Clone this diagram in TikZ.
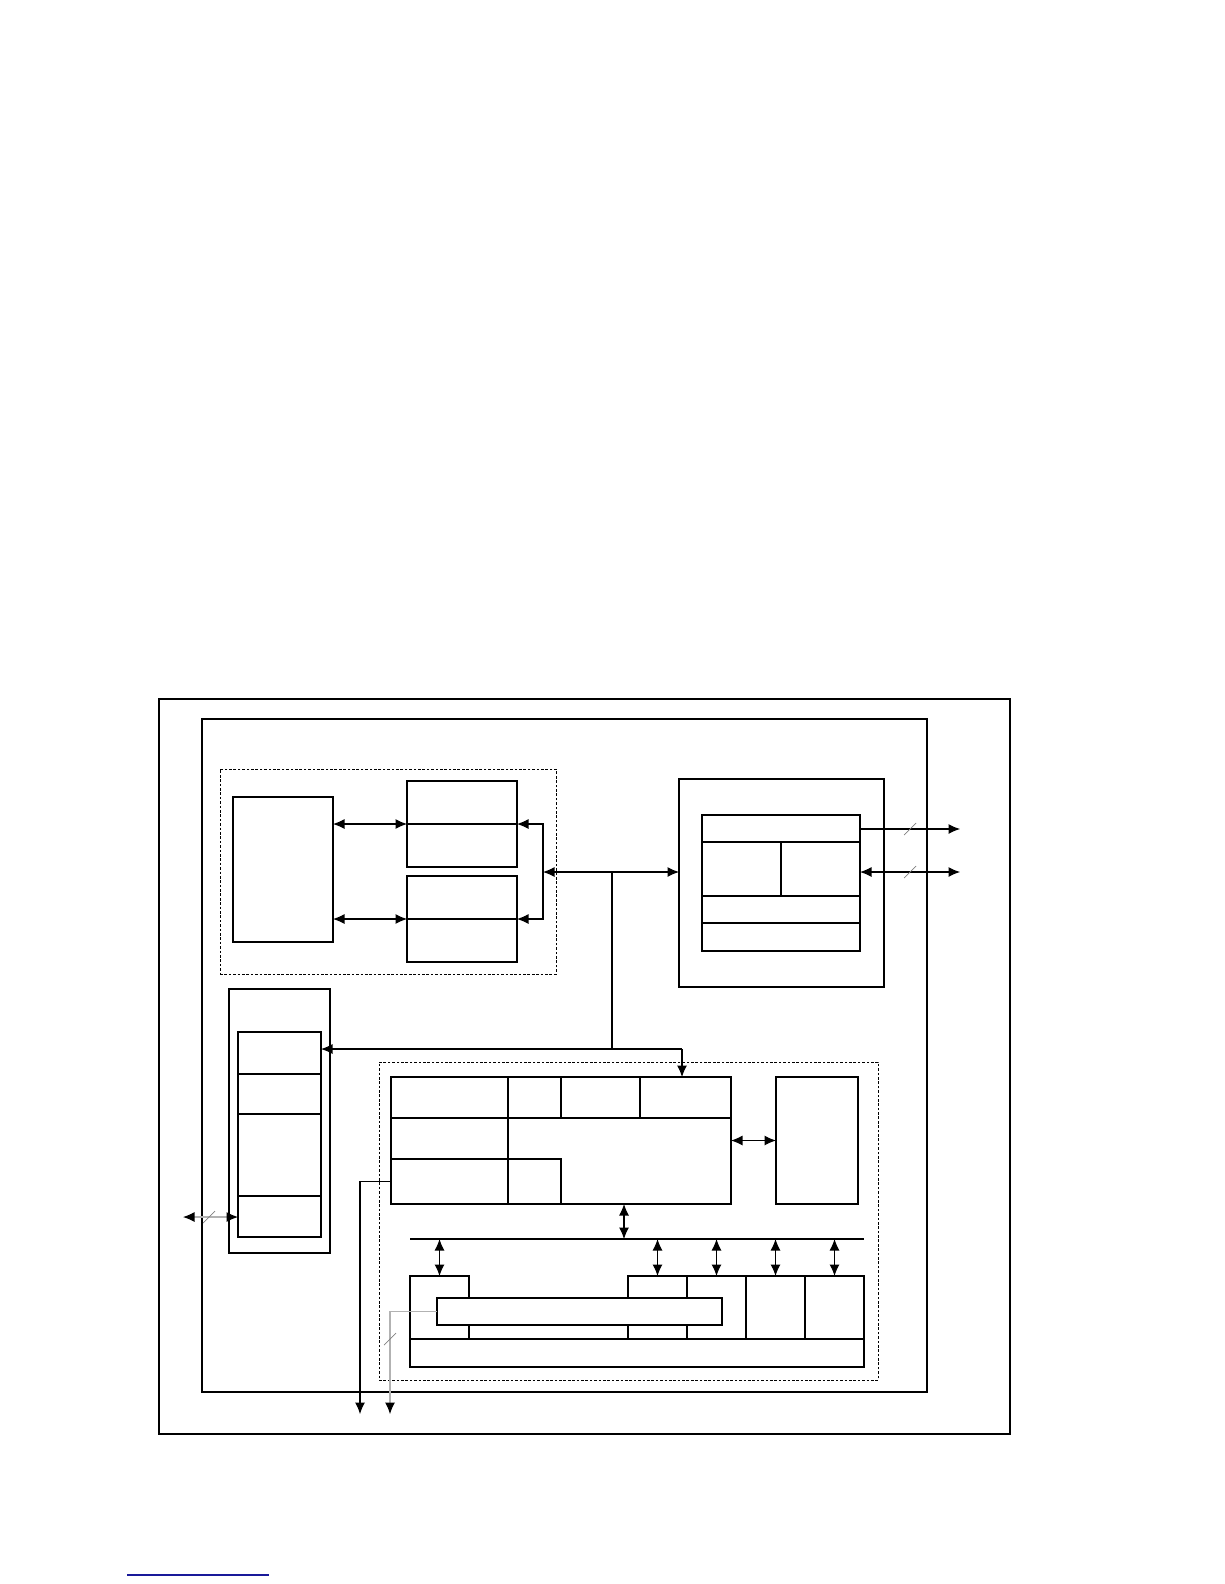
\documentclass[tikz,border=0pt]{standalone}
\usepackage{xcolor}
\usepackage{tikz}
\usetikzlibrary{positioning, fit, arrows.meta}
\definecolor{linkblue}{rgb}{0.1, 0.1, 0.6}
\tikzset{
    block/.style={
        draw, inner sep = 0pt, outer sep = 0pt,
        line width = 0.6pt
    },
    group/.style={
        draw, inner sep = 0pt, outer sep = 0pt,
        line width = 0.5pt,
        dash pattern = on 1.5pt off 1pt
    },
    line/.style = {line width = 0.6pt, -{Latex[length=2.3mm, width=2mm]}},
    dline/.style = {line width = 0.6pt, {Latex[length=2.3mm, width=2mm]}-{Latex[length=2.3mm, width=2mm]}},
    gline/.style = {line width = 0.6pt, draw = gray!60, -{Latex[length=2.3mm, width=2mm, color=black]}},
    gdline/.style = {line width = 0.6pt, draw = gray!60, {Latex[length=2.3mm, width=2mm, color=black]}-{Latex[length=2.3mm, width=2mm, color=black]}},
    slash/.style = {draw = gray, line width = 0.4pt}
}
\begin{document}
\begin{tikzpicture}[x=0.02cm, y=-0.02cm]
    \useasboundingbox (0,0) rectangle (1224,1584);

    % Board and chip outline
    \node[block, line width=0.7pt, fit={(159,699) (1010,1434)}] (board) {};
    \node[block, fit={(202,719) (927,1392)}] (chip) {};

    % Memory group
    \node[group, fit={(220,769) (556,974)}] (memgrp) {};
    \node[block, fit={(233,797) (333,942)}] (core) {};
    \node[block, fit={(407,781) (517,824)}] (memAtop) {};
    \node[block, fit={(407,824) (517,867)}] (memAbot) {};
    \node[block, fit={(407,876) (517,919)}] (memBtop) {};
    \node[block, fit={(407,919) (517,962)}] (memBbot) {};

    % IO module
    \node[block, fit={(679,779) (884,987)}] (iomod) {};
    \node[block, fit={(702,815) (860,842)}] (ioA) {};
    \node[block, fit={(702,842) (781,896)}] (ioB) {};
    \node[block, fit={(781,842) (860,896)}] (ioC) {};
    \node[block, fit={(702,896) (860,923)}] (ioD) {};
    \node[block, fit={(702,923) (860,951)}] (ioE) {};

    % Left module
    \node[block, fit={(229,989) (330,1253)}] (lmod) {};
    \node[block, fit={(238,1032) (321,1074)}] (lstackA) {};
    \node[block, fit={(238,1074) (321,1114)}] (lstackB) {};
    \node[block, fit={(238,1114) (321,1196)}] (lstackC) {};
    \node[block, fit={(238,1196) (321,1237)}] (lstackD) {};

    % System group
    \node[group, fit={(379,1062) (878,1380)}] (sysgrp) {};
    \node[block, fit={(391,1077) (731,1204)}] (cpu) {};
    \node[block, fit={(391,1077) (508,1118)}] (cpuA) {};
    \node[block, fit={(508,1077) (561,1118)}] (cpuB) {};
    \node[block, fit={(561,1077) (640,1118)}] (cpuC) {};
    \node[block, fit={(640,1077) (731,1118)}] (cpuD) {};
    \node[block, fit={(391,1118) (508,1159)}] (cpuE) {};
    \node[block, fit={(391,1159) (508,1204)}] (cpuF) {};
    \node[block, fit={(508,1159) (561,1204)}] (cpuG) {};
    \node[block, fit={(776,1077) (858,1204)}] (rblk) {};

    % Peripherals
    \node[block, fit={(410,1276) (469,1339)}] (botA) {};
    \node[block, fit={(628,1276) (687,1339)}] (botB) {};
    \node[block, fit={(687,1276) (746,1339)}] (botC) {};
    \node[block, fit={(746,1276) (805,1339)}] (botD) {};
    \node[block, fit={(805,1276) (864,1339)}] (botE) {};
    \node[block, fit={(410,1339) (864,1367)}] (botrow) {};
    \node[block, fill=white, fit={(437,1298) (722,1325)}] (bar) {};

    % Junctions
    \coordinate (memjn) at (543,872);
    \coordinate (sysjn) at (612,872);
    \coordinate (cpuin) at (682,1049);
    \coordinate (ioout) at (960,829);
    \coordinate (iobus) at (960,872);
    \coordinate (extio) at (183,1217);
    \coordinate (busL) at (410,1239);
    \coordinate (busR) at (864,1239);
    \coordinate (cpubus) at (624,1239);
    \coordinate (cpuout) at (360,1414);
    \coordinate (barout) at (390,1414);

    % Memory connections
    \draw[dline] (core.east |- memAtop.south) -- (memAtop.south west);
    \draw[dline] (core.east |- memBtop.south) -- (memBtop.south west);
    \draw[line] (memjn) |- (memAtop.south east);
    \draw[line] (memjn) |- (memBtop.south east);
    \draw[dline] (memjn) -- (iomod.west |- memjn);

    % Control path
    \draw[line width=0.6pt] (sysjn) -- (sysjn |- cpuin);
    \draw[line] (cpuin) -- (lstackA.east |- cpuin);
    \draw[line] (cpuin) -- (cpuin |- cpuD.north);

    % IO outputs
    \draw[line] (ioA.east |- ioout) -- (ioout);
    \draw[dline] (ioC.east |- iobus) -- (iobus);
    \draw[slash] (910,829) ++(-6,6) -- ++(12,-12);
    \draw[slash] (910,872) ++(-6,6) -- ++(12,-12);

    % External IO
    \draw[gdline] (extio) -- (lstackD.west |- extio);
    \draw[slash] (209,1217) ++(-6,6) -- ++(12,-12);

    % CPU and bus
    \draw[dline] (cpu.east) -- (rblk.west);
    \draw[line width=0.6pt] (busL) -- (busR);
    \draw[dline] (cpu.south -| cpubus) -- (cpubus);
    \foreach \c in {botA,botB,botC,botD,botE}
        \draw[dline] (\c.north |- busL) -- (\c.north);

    % Exits
    \draw[line] (cpuF.west) -| (cpuout);
    \draw[gline] (bar.west) -| (barout);
    \draw[slash] (390,1339) ++(-6,6) -- ++(12,-12);

    % Footer rule
    \draw[linkblue, line width=0.6pt] (127,1575) -- (269,1575);

\end{tikzpicture}
\end{document}
